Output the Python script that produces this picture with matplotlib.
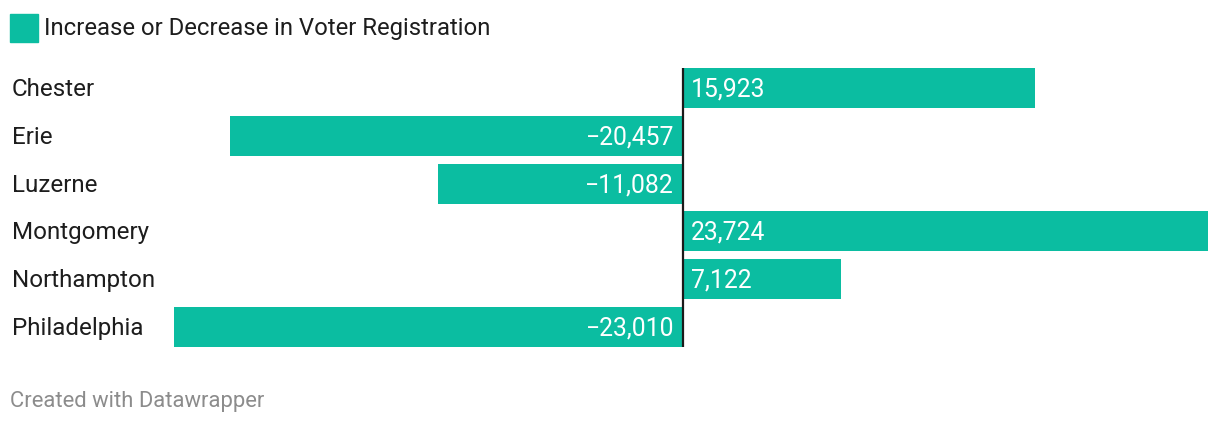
import matplotlib.pyplot as plt
from matplotlib.transforms import blended_transform_factory

plt.rcParams['font.family'] = ['Roboto', 'DejaVu Sans']

counties = ["Chester", "Erie", "Luzerne", "Montgomery", "Northampton", "Philadelphia"]
change = [15923, -20457, -11082, 23724, 7122, -23010]

teal = "#0bbda1"
W, H = 1220, 426

fig = plt.figure(figsize=(W / 100, H / 100), dpi=100)

# axes placed in pixel terms: zero line at x=683, bars from y=68 to y=347
left, right = 174, 1208
top, bottom = 68, 347
ax = fig.add_axes([left / W, 1 - bottom / H, (right - left) / W, (bottom - top) / H])

pos = list(range(len(counties)))
bar_h = 40 / 48
ax.barh(pos, change, height=bar_h, color=teal, zorder=2)
ax.set_xlim(min(change), max(change))
ax.set_ylim(len(counties) - 1 + bar_h / 2, -bar_h / 2)
ax.axvline(0, color="#1a1a1a", lw=1.6, zorder=3)
ax.axis("off")

# value labels inside the bars, next to the zero line
px = (max(change) - min(change)) / (right - left)
for y, v in zip(pos, change):
    txt = f"{abs(v):,}"
    if v >= 0:
        ax.text(8 * px, y + 0.03, txt, color="white", fontsize=17.8, va="center", ha="left", zorder=4)
    else:
        ax.text(-9 * px, y + 0.03, "\u2212" + txt, color="white", fontsize=17.8, va="center", ha="right", zorder=4)

# county names at the left edge of the figure
name_tr = blended_transform_factory(fig.transFigure, ax.transData)
for y, name in zip(pos, counties):
    ax.text(12 / W, y + 0.03, name, transform=name_tr, fontsize=17.4,
            color="#1d1d1d", va="center", ha="left")

# legend swatch and title
fig.patches.append(plt.Rectangle((10 / W, 1 - 42 / H), 28 / W, 28 / H,
                                 transform=fig.transFigure, color=teal))
fig.text(44 / W, 1 - 28 / H, "Increase or Decrease in Voter Registration",
         fontsize=17.2, color="#1d1d1d", va="center", ha="left")

fig.text(10 / W, 1 - 401 / H, "Created with Datawrapper",
         fontsize=15.8, color="#8c8c8c", va="center", ha="left")

fig.savefig("out.png", dpi=100)
